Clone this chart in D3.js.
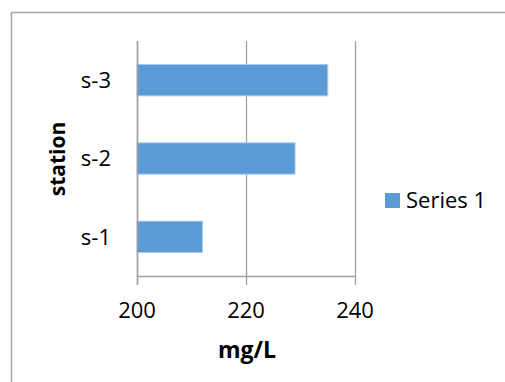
<!DOCTYPE html>
<html>
<head>
<meta charset="utf-8">
<script src="https://cdn.jsdelivr.net/npm/d3@7"></script>
<style>
  body { margin: 0; background: #fff; overflow: hidden; }
  svg { display: block; }
  text { font-family: "Open Sans", "Liberation Sans", sans-serif; fill: #000; }
</style>
</head>
<body>
<script>
var stations = ["s-1", "s-2", "s-3"];
var values = [212, 229, 235];
var xTicks = [200, 220, 240];
var seriesName = "Series 1";

var w = 505;
var h = 382;
var plot = { left: 137, right: 355, top: 41, bottom: 276 };

var svg = d3.select("body").append("svg").attr("width", w).attr("height", h);

// chart border: only top and left edges are inside the picture
svg.append("path").attr("d", "M11.5," + h + "V12.5H" + w)
    .attr("fill", "none").attr("stroke", "#a6a6a6").attr("stroke-width", 1.5);

var x = d3.scaleLinear().domain([200, 240]).range([plot.left, plot.right]);
var y = d3.scaleBand().domain(stations.slice().reverse()).range([plot.top, plot.bottom]).paddingInner(0.6).paddingOuter(0.3);

// gridlines incl. tick stubs below axis
svg.selectAll(".grid").data(xTicks).enter().append("line").attr("class", "grid")
    .attr("x1", d => Math.round(x(d)) + 0.5).attr("x2", d => Math.round(x(d)) + 0.5)
    .attr("y1", plot.top).attr("y2", plot.bottom + 9)
    .attr("stroke", "#a0a0a0").attr("stroke-width", 1.3);

// bars
var data = stations.map((s, i) => ({ s: s, v: values[i] }));
svg.selectAll(".bar").data(data).enter().append("rect").attr("class", "bar")
    .attr("x", x(200)).attr("y", d => y(d.s))
    .attr("width", d => x(d.v) - x(200)).attr("height", y.bandwidth())
    .attr("fill", "#5b9bd5").attr("stroke", "#a9c9ec").attr("stroke-width", 1);

// x axis line
svg.append("line").attr("x1", x(200)).attr("x2", x(240))
    .attr("y1", plot.bottom + 0.5).attr("y2", plot.bottom + 0.5)
    .attr("stroke", "#a0a0a0").attr("stroke-width", 1.3);
// y axis line
svg.append("line").attr("x1", Math.round(x(200)) + 0.5).attr("x2", Math.round(x(200)) + 0.5)
    .attr("y1", plot.top).attr("y2", plot.bottom + 9)
    .attr("stroke", "#a0a0a0").attr("stroke-width", 1.5);

// x tick labels
svg.selectAll(".xt").data(xTicks).enter().append("text").attr("class", "xt")
    .attr("x", d => x(d)).attr("y", 318).attr("text-anchor", "middle")
    .attr("font-size", 22).text(d => d);

// y tick labels
svg.selectAll(".yt").data(stations).enter().append("text").attr("class", "yt")
    .attr("x", 111).attr("y", d => y(d) + y.bandwidth() / 2).attr("dy", "0.36em")
    .attr("text-anchor", "end").attr("font-size", 22).text(d => d);

// axis titles
svg.append("text").attr("x", 247).attr("y", 358).attr("text-anchor", "middle")
    .attr("font-size", 23).attr("font-weight", "bold").text("mg/L");
svg.append("text").attr("transform", "translate(65,159) rotate(-90)").attr("text-anchor", "middle")
    .attr("font-size", 21).attr("font-weight", "bold").text("station");

// legend
svg.append("rect").attr("x", 385).attr("y", 193).attr("width", 15).attr("height", 15).attr("fill", "#5b9bd5");
svg.append("text").attr("x", 406).attr("y", 200.5).attr("dy", "0.36em")
    .attr("font-size", 22).text(seriesName);
</script>
</body>
</html>
